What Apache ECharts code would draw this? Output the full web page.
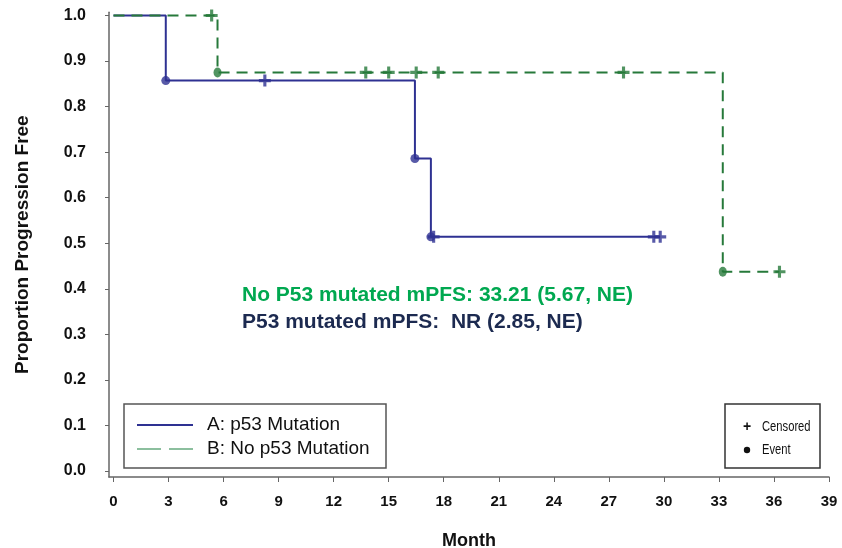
<!DOCTYPE html>
<html>
<head>
<meta charset="utf-8">
<script src="https://cdn.jsdelivr.net/npm/echarts@6/dist/echarts.min.js"></script>
<style>html,body{margin:0;padding:0;background:#fff}#c{width:842px;height:548px}</style>
</head>
<body>
<div id="c"></div>
<script>
// Tick labels
const monthTicks = [0,3,6,9,12,15,18,21,24,27,30,33,36,39];
const propTicks = [0,0.1,0.2,0.3,0.4,0.5,0.6,0.7,0.8,0.9,1.0];

// A: p53 Mutation - step curve
const aTimes = [0, 2.85, 16.43, 17.3, 29.8];
const aSurv  = [1.0, 0.857, 0.686, 0.514, 0.514];
const aEventTimes = [2.85, 16.43, 17.3];
const aEventSurv  = [0.857, 0.686, 0.514];
const aCensTimes = [8.25, 17.45, 29.45, 29.8];
const aCensSurv  = [0.857, 0.514, 0.514, 0.514];

// B: No p53 Mutation - step curve
const bTimes = [0, 5.67, 33.21, 36.3];
const bSurv  = [1.0, 0.875, 0.4375, 0.4375];
const bEventTimes = [5.67, 33.21];
const bEventSurv  = [0.875, 0.4375];
const bCensTimes = [5.35, 13.75, 15.0, 16.5, 17.7, 27.8, 36.3];
const bCensSurv  = [1.0, 0.875, 0.875, 0.875, 0.875, 0.875, 0.4375];

const blue = '#2e3192';
const green = '#26793a';
const plusPath = 'path://M3.7,0H6.3V3.7H10V6.3H6.3V10H3.7V6.3H0V3.7H3.7Z';
const zip = (xs, ys) => xs.map((x, i) => [x, ys[i]]);
const axisFont = 'Liberation Sans, Arial';

const chart = echarts.init(document.getElementById('c'));
chart.setOption({
  animation: false,
  grid: { left: 109, right: 13, top: 12.3, bottom: 71, containLabel: false, outerBoundsMode: 'none' },
  xAxis: {
    type: 'value', min: -0.245, max: 39,
    name: 'Month', nameLocation: 'middle', nameGap: 55,
    nameTextStyle: { fontFamily: axisFont, fontWeight: 'bold', fontSize: 18, color: '#111' },
    axisLine: { show: true, onZero: false, lineStyle: { color: '#666', width: 1.5 } },
    axisTick: { show: true, length: 5, customValues: monthTicks, lineStyle: { color: '#666' } },
    axisLabel: { customValues: monthTicks, margin: 17, fontFamily: axisFont, fontWeight: 'bold', fontSize: 15, color: '#111' },
    splitLine: { show: false }
  },
  yAxis: {
    type: 'value', min: -0.0132, max: 1.007,
    name: 'Proportion Progression Free', nameLocation: 'middle', nameGap: 77,
    nameTextStyle: { fontFamily: axisFont, fontWeight: 'bold', fontSize: 19, color: '#111' },
    axisLine: { show: true, onZero: false, lineStyle: { color: '#666', width: 1.5 } },
    axisTick: { show: true, length: 4, customValues: propTicks, lineStyle: { color: '#666' } },
    axisLabel: { customValues: propTicks, margin: 23, formatter: v => v.toFixed(1), fontFamily: axisFont, fontWeight: 'bold', fontSize: 16, color: '#111' },
    splitLine: { show: false }
  },
  series: [
    { name: 'A: p53 Mutation', type: 'line', step: 'end', data: zip(aTimes, aSurv), symbol: 'none', lineStyle: { color: blue, width: 2 }, z: 2 },
    { name: 'B: No p53 Mutation', type: 'line', step: 'end', data: zip(bTimes, bSurv), symbol: 'none', lineStyle: { color: green, width: 2, type: [11, 7] }, z: 3 },
    { type: 'scatter', data: zip(aEventTimes, aEventSurv), symbol: 'circle', symbolSize: 9, itemStyle: { color: blue }, z: 4 },
    { type: 'scatter', data: zip(aCensTimes, aCensSurv), symbol: plusPath, symbolSize: 12, itemStyle: { color: blue }, z: 4 },
    { type: 'scatter', data: zip(bEventTimes, bEventSurv), symbol: 'circle', symbolSize: [8, 10], itemStyle: { color: green }, z: 5 },
    { type: 'scatter', data: zip(bCensTimes, bCensSurv), symbol: plusPath, symbolSize: 12, itemStyle: { color: green }, z: 5 }
  ],
  graphic: [
    { type: 'text', left: 242, top: 285, style: { text: 'No P53 mutated mPFS: 33.21 (5.67, NE)', font: 'bold 21px "Liberation Sans", Arial', fill: '#00a850' } },
    { type: 'text', left: 242, top: 312, style: { text: 'P53 mutated mPFS:  NR (2.85, NE)', font: 'bold 21px "Liberation Sans", Arial', fill: '#1c2a50' } },
    { type: 'rect', shape: { x: 124, y: 404, width: 262, height: 64 }, style: { fill: '#fff', stroke: '#555', lineWidth: 1.5 }, z: 10 },
    { type: 'line', shape: { x1: 137, y1: 425, x2: 193, y2: 425 }, style: { stroke: blue, lineWidth: 2 }, z: 11 },
    { type: 'line', shape: { x1: 137, y1: 449, x2: 193, y2: 449 }, style: { stroke: '#8cbf9e', lineWidth: 2, lineDash: [24, 8] }, z: 11 },
    { type: 'text', x: 207, y: 425, style: { text: 'A: p53 Mutation', font: '19px "Liberation Sans", Arial', fill: '#111', textVerticalAlign: 'middle' }, z: 11 },
    { type: 'text', x: 207, y: 449, style: { text: 'B: No p53 Mutation', font: '19px "Liberation Sans", Arial', fill: '#111', textVerticalAlign: 'middle' }, z: 11 },
    { type: 'rect', shape: { x: 725, y: 404, width: 95, height: 64 }, style: { fill: '#fff', stroke: '#333', lineWidth: 1.5 }, z: 10 },
    { type: 'text', x: 747, y: 427, style: { text: '+', font: 'bold 14px "Liberation Sans", Arial', fill: '#111', textAlign: 'center', textVerticalAlign: 'middle' }, z: 11 },
    { type: 'circle', shape: { cx: 747, cy: 450, r: 3.2 }, style: { fill: '#111' }, z: 11 },
    { type: 'text', x: 762, y: 427, scaleX: 0.8, style: { text: 'Censored', font: '14px "Liberation Sans", Arial', fill: '#111', textVerticalAlign: 'middle' }, z: 11 },
    { type: 'text', x: 762, y: 450, scaleX: 0.8, style: { text: 'Event', font: '14px "Liberation Sans", Arial', fill: '#111', textVerticalAlign: 'middle' }, z: 11 }
  ]
});
</script>
</body>
</html>
